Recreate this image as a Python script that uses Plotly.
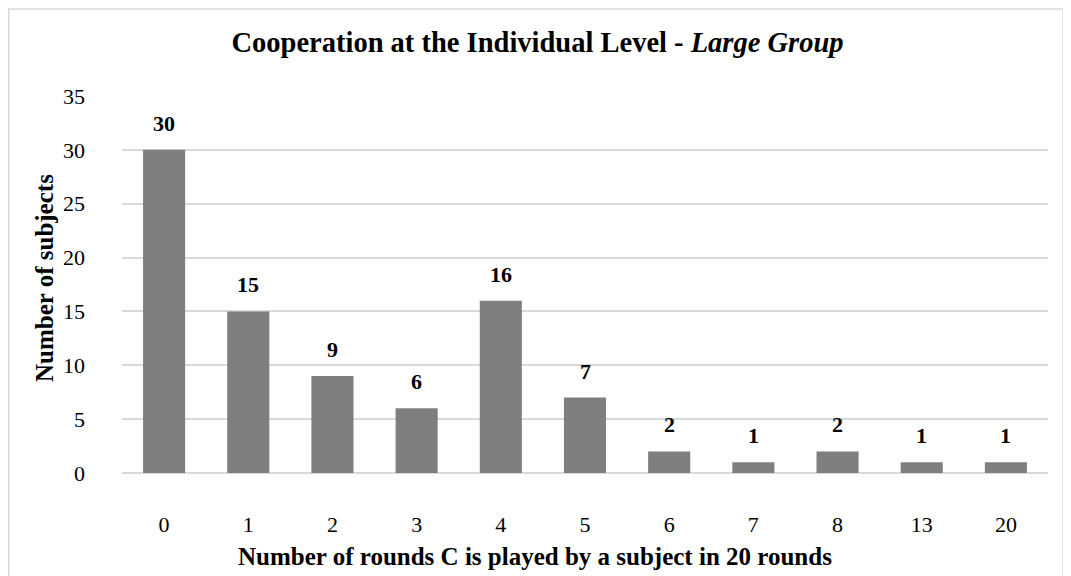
import plotly.graph_objects as go

categories = ["0", "1", "2", "3", "4", "5", "6", "7", "8", "13", "20"]
subjects = [30, 15, 9, 6, 16, 7, 2, 1, 2, 1, 1]
y_ticks = [0, 5, 10, 15, 20, 25, 30, 35]

FONT = "Liberation Serif, Times New Roman, serif"

# layout geometry (figure pixel coordinates)
W, H = 1071, 576
ML, MR, MT, MB = 114, 31, 88, 111
PW, PH = W - ML - MR, H - MT - MB


def px_x(x):
    return (x - ML) / PW


def px_y(y):
    return (H - MB - y) / PH


fig = go.Figure()
fig.add_trace(go.Bar(
    x=categories, y=subjects,
    marker=dict(color="#7f7f7f", line=dict(width=0)),
    width=0.5,
    hoverinfo="x+y",
))

for i, v in enumerate(subjects):
    fig.add_annotation(x=i, y=v, xref="x", yref="y", text=f"<b>{v}</b>", showarrow=False,
                       yanchor="bottom", yshift=12,
                       font=dict(family=FONT, size=22, color="#000"))

fig.add_annotation(text="<b>Number of rounds C is played by a subject in 20 rounds</b>",
                   xref="paper", yref="paper", x=px_x(527), y=px_y(548),
                   xanchor="center", yanchor="middle", showarrow=False,
                   font=dict(family=FONT, size=25, color="#000"))
fig.add_annotation(text="<b>Number of subjects</b>", textangle=-90,
                   xref="paper", yref="paper", x=px_x(36), y=px_y(270),
                   xanchor="center", yanchor="middle", showarrow=False,
                   font=dict(family=FONT, size=25, color="#000"))

fig.update_layout(
    width=W, height=H,
    margin=dict(l=ML, r=MR, t=MT, b=MB),
    paper_bgcolor="white", plot_bgcolor="white",
    font=dict(family=FONT, size=22, color="#000"),
    showlegend=False,
    title=dict(text="<b>Cooperation at the Individual Level - <i>Large Group</i></b>",
               x=529.5 / W, xref="container", xanchor="center",
               y=1 - 34 / H, yref="container", yanchor="middle",
               font=dict(family=FONT, size=28.5, color="#000")),
    bargap=0.5,
)

fig.update_xaxes(type="category", range=[-0.5, 10.5], showgrid=False, showline=False,
                 ticks="", ticklabelstandoff=36,
                 tickfont=dict(family=FONT, size=22))
fig.update_yaxes(range=[0, 35], tickvals=y_ticks, showgrid=True, gridcolor="#d9d9d9",
                 gridwidth=1.5, zeroline=True, zerolinecolor="#d9d9d9", zerolinewidth=1.5,
                 showline=False, ticks="", ticklabelstandoff=36,
                 tickfont=dict(family=FONT, size=22))

# chart border
fig.add_shape(type="rect", xref="paper", yref="paper",
              x0=px_x(0.75), x1=px_x(1055),
              y0=px_y(600), y1=px_y(1),
              line=dict(color="#d9d9d9", width=1.5), fillcolor="rgba(0,0,0,0)", layer="below")

fig.write_html("out.html")
